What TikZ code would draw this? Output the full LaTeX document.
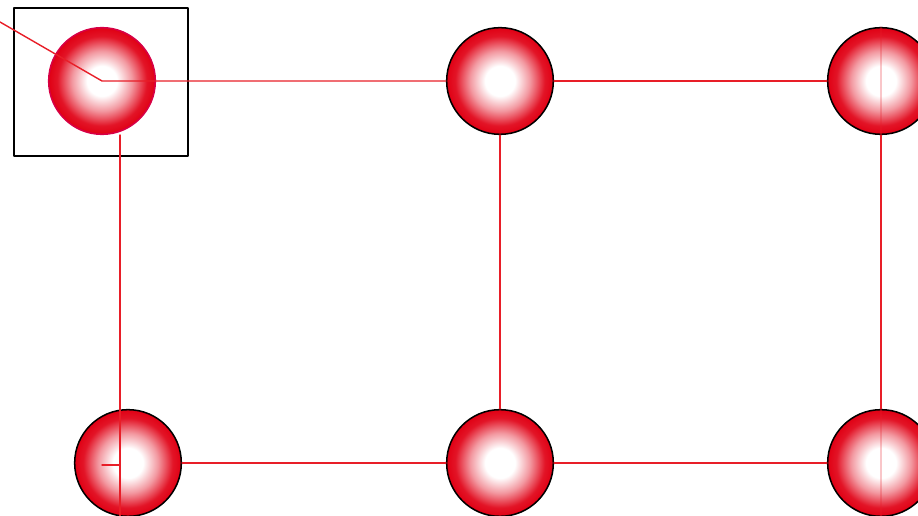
\documentclass[tikz,border=0pt]{standalone}
\usetikzlibrary{positioning}
\definecolor{ballred}{RGB}{224,0,20}
\definecolor{linered}{RGB}{232,30,40}
\pgfdeclareradialshading{sphere}{\pgfpoint{0bp}{0bp}}{%
  color(0bp)=(white); color(7bp)=(white); color(14bp)=(ballred!40);
  color(21bp)=(ballred!92); color(25bp)=(ballred); color(50bp)=(ballred)}

\begin{document}
\begin{tikzpicture}[line cap=round, line join=round, x=0.3mm, y=0.3mm,
  ball/.style={circle, minimum size=32mm, inner sep=0pt, draw=black, line width=1.3pt,
    shading=sphere},
  link/.style={draw=linered, line width=1.2pt}]
  \useasboundingbox (0,0) rectangle (918,516);
  \clip (0,0) rectangle (918,516);
  \node[ball, draw={rgb,255:red,215;green,0;blue,70}] (a) at (102,435) {};
  \node[ball] (b) at (500,435) {};
  \node[ball] (c) at (881,435) {};
  \node[ball] (d) at (128,53) {};
  \node[ball] (e) at (500,53) {};
  \node[ball] (f) at (881,53) {};
  \coordinate (corner) at (0,494);
  \coordinate (vtop) at (120,381);
  \coordinate (vbot) at (120,0);
  \coordinate (tick) at (102,51);
  \draw[line width=1.6pt] (14,360) rectangle (188,508);
  \draw[link] (corner) -- (a.center) -- (b);
  \draw[link] (b) -- (c);
  \draw[link] (vtop) -- (vbot);
  \draw[link] (tick) -- (tick -| vtop);
  \draw[link] (d) -- (e);
  \draw[link] (e) -- (f);
  \draw[link] (b) -- (e);
  \draw[link] (c) -- (f);
  \draw[link, opacity=0.25] (c.north) -- (c.south);
  \draw[link, opacity=0.25] (f.north) -- (f.south);
\end{tikzpicture}
\end{document}
